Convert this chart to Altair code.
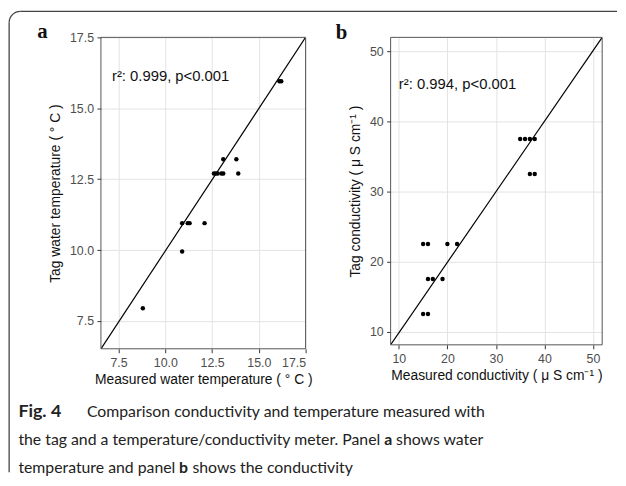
import altair as alt
import pandas as pd

# ---------------- data ----------------
temp_measured = [8.8, 10.9, 10.9, 11.2, 11.3, 12.1, 12.6, 12.7, 12.8, 13.0, 13.1, 13.9, 13.1, 13.8, 16.1, 16.2]
temp_tag = [7.95, 9.95, 10.95, 10.95, 10.95, 10.95, 12.7, 12.7, 12.7, 12.7, 12.7, 12.7, 13.2, 13.2, 15.95, 15.95]

cond_measured = [15, 16, 16, 17, 19, 15, 16, 20, 22, 35, 36, 37, 38, 37, 38]
cond_tag = [12.5, 12.5, 17.5, 17.5, 17.5, 22.5, 22.5, 22.5, 22.5, 37.5, 37.5, 37.5, 37.5, 32.5, 32.5]

temp_fit = {"slope": 1.004, "intercept": -0.07}
cond_fit = {"slope": 1.007, "intercept": -0.26}

temp_domain = [6.56, 17.5]
temp_ydomain = [6.52, 17.5]
cond_domain = [8.3, 51.9]
cond_ydomain = [8.1, 52.0]

temp_ticks = [7.5, 10.0, 12.5, 15.0, 17.5]
cond_ticks = [10, 20, 30, 40, 50]

temp_label = ["r\u00b2: 0.999, p<0.001"]
temp_label_pos = [7.15, 16.15]
cond_label = ["r\u00b2: 0.994, p<0.001"]
cond_label_pos = [10.0, 45.4]

panel_letters = ["a", "b"]
x_titles = ["Measured water temperature ( \u00b0 C )", "Measured conductivity ( \u03bc S cm\u207b\u00b9 )"]
y_titles = ["Tag water temperature ( \u00b0 C )", "Tag conductivity ( \u03bc S cm\u207b\u00b9 )"]

caption_lines = [
    [("Fig. 4", "bold"), ("Comparison conductivity and temperature measured with", "normal")],
    [("the tag and a temperature/conductivity meter. Panel", "normal"), ("a", "bold"), ("shows water", "normal")],
    [("temperature and panel", "normal"), ("b", "bold"), ("shows the conductivity", "normal")],
]

# ---------------- style ----------------
AXFONT = "Liberation Sans"
CAPFONT = "Lato"
CAP_SIZE = 16
BORDER = "#555555"

one = pd.DataFrame({"k": [0]})


def panel(mx, ty, fit, xdom, ydom, ticks, fmt, xtitle, ytitle, lab, labpos, w, h):
    pts = pd.DataFrame({"m": mx, "t": ty})
    line = pd.DataFrame({"x": xdom, "y": [fit["intercept"] + fit["slope"] * v for v in xdom]})
    ann = pd.DataFrame({"x": [labpos[0]], "y": [labpos[1]], "label": lab})
    xs = alt.Scale(domain=xdom, nice=False, zero=False)
    ys = alt.Scale(domain=ydom, nice=False, zero=False)
    xax = alt.Axis(values=ticks, format=fmt, title=xtitle)
    yax = alt.Axis(values=ticks, format=fmt, title=ytitle)
    base = alt.Chart(pts).mark_circle(size=20, color="black", opacity=1).encode(
        x=alt.X("m:Q", scale=xs, axis=xax),
        y=alt.Y("t:Q", scale=ys, axis=yax),
    )
    ln = alt.Chart(line).mark_line(color="black", strokeWidth=1.2, clip=True).encode(
        x=alt.X("x:Q", scale=xs), y=alt.Y("y:Q", scale=ys)
    )
    tx = alt.Chart(ann).mark_text(align="left", baseline="middle", fontSize=15, font=AXFONT, color="#111").encode(
        x=alt.X("x:Q", scale=xs), y=alt.Y("y:Q", scale=ys), text="label:N"
    )
    frame = alt.Chart(one).mark_rect(fill="transparent", stroke=BORDER, strokeWidth=1).encode(
        x=alt.value(0), x2=alt.value(w), y=alt.value(0), y2=alt.value(h)
    )
    return [ln, base, tx, frame]


WA, HA = 207, 315
WB, HB = 214, 311

layers_a = panel(temp_measured, temp_tag, temp_fit, temp_domain, temp_ydomain, temp_ticks, ".1f",
                 x_titles[0], y_titles[0], temp_label, temp_label_pos, WA, HA)
layers_b = panel(cond_measured, cond_tag, cond_fit, cond_domain, cond_ydomain, cond_ticks, "d",
                 x_titles[1], y_titles[1], cond_label, cond_label_pos, WB, HB)

letter_a = alt.Chart(one).mark_text(align="left", baseline="alphabetic", font="Liberation Serif",
                                    fontWeight="bold", fontSize=21, color="#111").encode(
    x=alt.value(-64.5), y=alt.value(0.5), text=alt.value(panel_letters[0]))
letter_b = alt.Chart(one).mark_text(align="left", baseline="alphabetic", font="Liberation Serif",
                                    fontWeight="bold", fontSize=21, color="#111").encode(
    x=alt.value(-55.5), y=alt.value(2), text=alt.value(panel_letters[1]))

# outer frame: top line, left line and rounded top-left corner
FRAME_C = "#444444"
corner = alt.Chart(one).mark_arc(radius=12, radius2=10.7, theta=4.712389, theta2=6.283185,
                                 color=FRAME_C).encode(x=alt.value(-81.5), y=alt.value(-15))
top_line = alt.Chart(one).mark_rule(color=FRAME_C, strokeWidth=1.3).encode(
    x=alt.value(-81.5), x2=alt.value(522), y=alt.value(-26.35))
left_line = alt.Chart(one).mark_rule(color=FRAME_C, strokeWidth=1.3).encode(
    x=alt.value(-92.85), y=alt.value(-15), y2=alt.value(440))

cap_x = [[-83.5, -14.2], [-83.5, 286.5, 298.5], [-83.5, 79, 92.5]]
cap_y = [383.5, 412.5, 441]
cap_size = [[18, CAP_SIZE], [CAP_SIZE, CAP_SIZE, CAP_SIZE], [CAP_SIZE, CAP_SIZE, CAP_SIZE]]
cap_layers = []
for li, segs in enumerate(caption_lines):
    for si, (txt, wt) in enumerate(segs):
        cap_layers.append(
            alt.Chart(one).mark_text(align="left", baseline="alphabetic", font=CAPFONT,
                                     fontSize=cap_size[li][si], fontWeight=wt, color="#222").encode(
                x=alt.value(cap_x[li][si]), y=alt.value(cap_y[li]), text=alt.value(txt))
        )

panel_a = alt.layer(*layers_a, letter_a, corner, top_line, left_line, *cap_layers).properties(width=WA, height=HA)
panel_b = alt.layer(*layers_b, letter_b).properties(width=WB, height=HB)

chart = alt.hconcat(panel_a, panel_b, spacing=86, bounds="flush").properties(
    padding=0, background="white"
).configure_view(stroke=None).configure_axis(
    grid=True, gridColor="#e3e3e3", gridWidth=1, domain=False,
    tickColor="#333", tickSize=4, tickWidth=1,
    labelFont=AXFONT, labelFontSize=12.5, labelColor="#4d4d4d", labelPadding=3.5,
    titleFont=AXFONT, titleFontSize=14, titleFontWeight="normal", titleColor="#111",
).configure_axisX(titlePadding=4).configure_axisY(titlePadding=7)

chart.save("out.html", embed_options={"renderer": "svg", "actions": False})
